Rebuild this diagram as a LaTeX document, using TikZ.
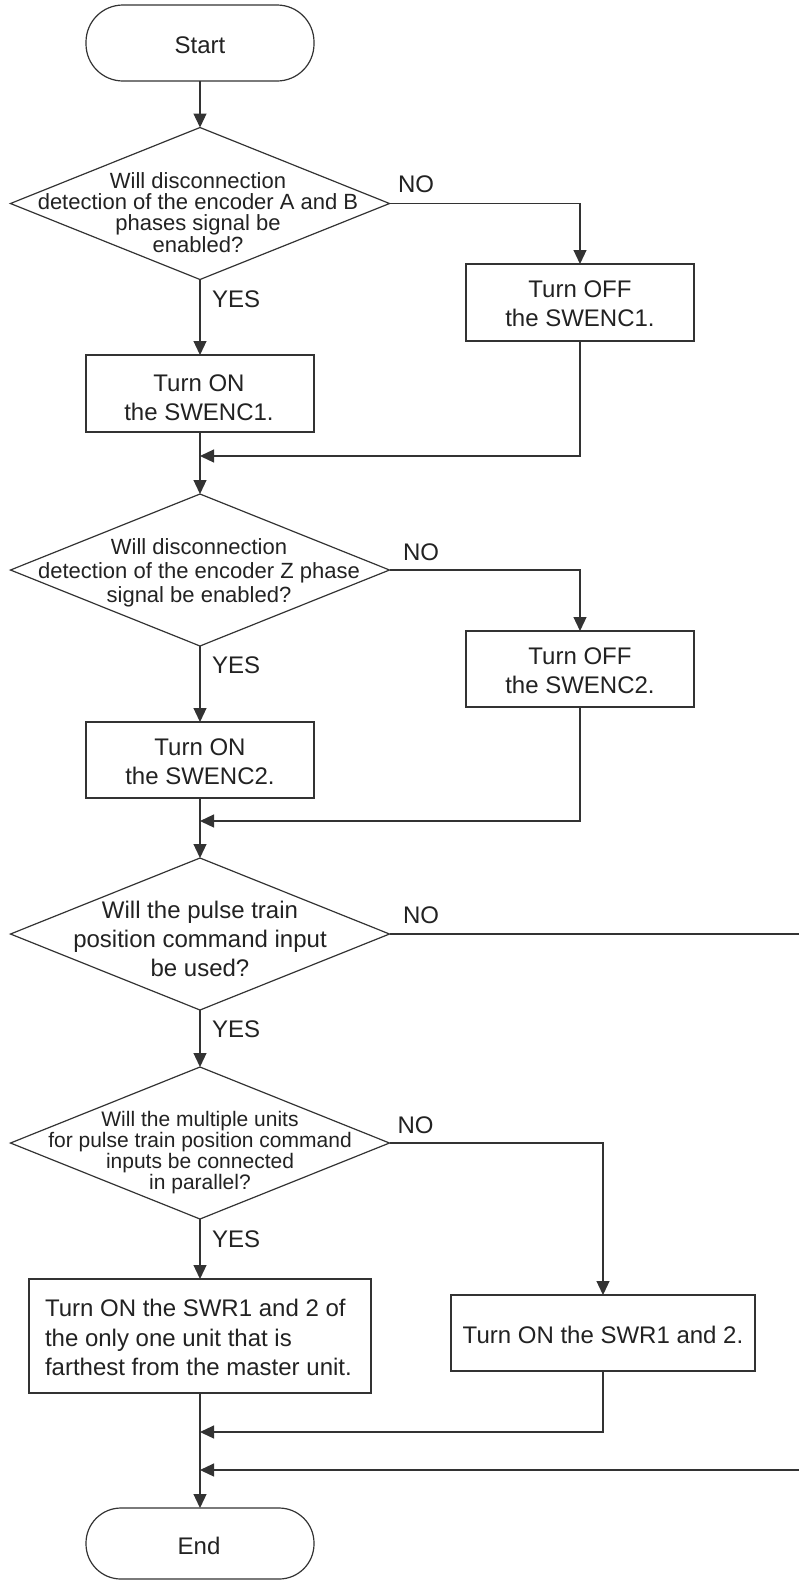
\documentclass[tikz,border=0pt]{standalone}
\usepackage{fontspec}
\setmainfont{Liberation Sans}
\usetikzlibrary{shapes.geometric,arrows.meta}
\newcommand{\stkc}[2]{\vtop{\baselineskip=#1\lineskiplimit=-1000pt\lineskip=0pt\halign{\hfil##\hfil\cr#2\crcr}}}
\newcommand{\stkl}[2]{\vtop{\baselineskip=#1\lineskiplimit=-1000pt\lineskip=0pt\halign{##\hfil\cr#2\crcr}}}
\definecolor{ln}{HTML}{333333}
\definecolor{tx}{HTML}{222222}
\begin{document}
\begin{tikzpicture}[x=1pt,y=-1pt,
  every node/.style={inner sep=0pt,outer sep=0pt},
  shp/.style={draw=ln,line width=1.2pt},
  term/.style={shp,rectangle,rounded corners=37pt,minimum width=228pt,minimum height=76pt},
  proc/.style={shp,rectangle,minimum width=228pt,minimum height=77pt},
  dec/.style={shp,diamond,minimum width=379pt,minimum height=152pt},
  txt/.style={anchor=base,text=tx,font=\fontsize{24}{29.5}\selectfont},
  lbl/.style={anchor=base west,text=tx,font=\fontsize{24}{29.5}\selectfont},
  conn/.style={draw=ln,line width=1.2pt},
  arr/.style={conn,-{Triangle[length=14pt,width=13pt]}}
]
\useasboundingbox (0,0) rectangle (799,1580);
\fill[white] (0,0) rectangle (799,1580);

% shapes
\node[term] (start) at (200,43) {};
\node[dec] (d1) at (200,203.5) {};
\node[proc] (off1) at (580,302.5) {};
\node[proc] (on1) at (200,393.5) {};
\node[dec] (d2) at (200,570) {};
\node[proc,minimum height=76pt] (off2) at (580,669) {};
\node[proc,minimum height=76pt] (on2) at (200,760) {};
\node[dec] (d3) at (200,934) {};
\node[dec] (d4) at (200,1143) {};
\node[proc,minimum width=342pt,minimum height=114pt] (swr1) at (200,1336) {};
\node[proc,minimum width=304pt,minimum height=76pt] (swr2) at (603,1333) {};
\node[term,minimum height=71pt,rounded corners=35pt] (end) at (200,1543.5) {};

% texts
\node[txt] (startt) at (200,53) {Start};
\node[txt,font=\fontsize{22}{21.4}\selectfont] (d1t) at (198,188) {\stkc{21.4pt}{Will disconnection\cr detection of the encoder A and B\cr phases signal be\cr enabled?}};
\node[lbl] (no1) at (398,192.5) {NO};
\node[lbl] (yes1) at (212,307) {YES};
\node[txt] (off1t) at (580,297.3) {\stkc{29.5pt}{Turn OFF\cr the SWENC1.}};
\node[txt] (on1t) at (199,391) {\stkc{29.5pt}{Turn ON\cr the SWENC1.}};
\node[txt,font=\fontsize{22}{24}\selectfont] (d2t) at (199,554) {\stkc{24pt}{Will disconnection\cr detection of the encoder Z phase\cr signal be enabled?}};
\node[lbl] (no2) at (403,560) {NO};
\node[lbl] (yes2) at (212,673) {YES};
\node[txt] (off2t) at (580,664) {\stkc{29.5pt}{Turn OFF\cr the SWENC2.}};
\node[txt] (on2t) at (200,755) {\stkc{29.5pt}{Turn ON\cr the SWENC2.}};
\node[txt] (d3t) at (200,918.3) {\stkc{29.3pt}{Will the pulse train\cr position command input\cr be used?}};
\node[lbl] (no3) at (403,923) {NO};
\node[lbl] (yes3) at (212,1037) {YES};
\node[txt,font=\fontsize{21}{20.8}\selectfont] (d4t) at (200,1126.7) {\stkc{20.8pt}{Will the multiple units\cr for pulse train position command\cr inputs be connected\cr in parallel?}};
\node[lbl] (no4) at (397.5,1133) {NO};
\node[lbl] (yes4) at (212,1247) {YES};
\node[lbl] (swr1t) at (45,1316.7) {\stkl{29.5pt}{Turn ON the SWR1 and 2 of\cr the only one unit that is\cr farthest from the master unit.}};
\node[txt] (swr2t) at (603,1343) {Turn ON the SWR1 and 2.};
\node[txt] (endt) at (199,1554.3) {End};

% free ends
\coordinate (m1) at (200,456);
\coordinate (m2) at (200,821);
\coordinate (m3) at (200,1432);
\coordinate (m4) at (200,1470);
\coordinate (r1) at (799,934);
\coordinate (r2) at (799,1470);

% connectors
\draw[arr] (start.south) -- (d1.north);
\draw[arr] (d1.south) -- (on1.north);
\draw[arr] (d1.east) -| (off1.north);
\draw[arr] (on1.south) -- (d2.north);
\draw[arr] (off1.south) |- (m1);
\draw[arr] (d2.south) -- (on2.north);
\draw[arr] (d2.east) -| (off2.north);
\draw[arr] (off2.south) |- (m2);
\draw[arr] (on2.south) -- (d3.north);
\draw[arr] (d3.south) -- (d4.north);
\draw[conn] (d3.east) -- (r1);
\draw[arr] (d4.east) -| (swr2.north);
\draw[arr] (d4.south) -- (swr1.north);
\draw[arr] (swr1.south) -- (end.north);
\draw[arr] (swr2.south) |- (m3);
\draw[arr] (r2) -- (m4);
\end{tikzpicture}
\end{document}
